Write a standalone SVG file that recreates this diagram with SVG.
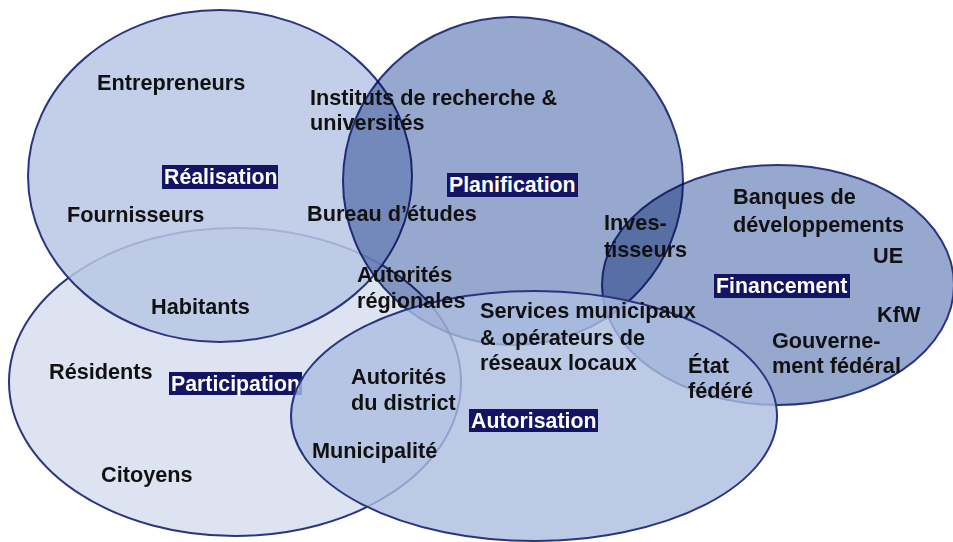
<svg xmlns="http://www.w3.org/2000/svg" width="953" height="542" viewBox="0 0 953 542">
<style>
.e{stroke:#2a3580;stroke-width:2}
.m{mix-blend-mode:multiply}
.t{font-family:"Liberation Sans",Arial,sans-serif;font-weight:bold;font-size:21.7px;fill:#111}
.lb{fill:#141464}
.lt{font-family:"Liberation Sans",Arial,sans-serif;font-weight:bold;font-size:21.3px;fill:#fff}
</style>
<rect width="953" height="542" fill="#fff"/>
<g id="participation">
<ellipse class="e" cx="235" cy="382" rx="226" ry="154" fill="#dde3f1"/>
<rect class="lb" x="169" y="372" width="133" height="23"/>
<text class="lt" x="171" y="391">Participation</text>
</g>
<g id="realisation">
<ellipse class="e" cx="220" cy="176" rx="192" ry="166" fill="rgb(185,199,228)" fill-opacity="0.85"/>
<rect class="lb" x="162" y="165" width="116" height="24"/>
<text class="lt" x="164" y="184">Réalisation</text>
</g>
<g id="planification">
<ellipse class="e m" cx="513" cy="181" rx="170" ry="164" fill="#96a8ce"/>
<rect class="lb" x="447" y="173" width="131" height="24"/>
<text class="lt" x="449" y="192">Planification</text>
</g>
<g id="financement">
<ellipse class="e m" cx="778" cy="285" rx="176" ry="120" fill="#96a8ce"/>
<rect class="lb" x="714" y="274" width="136" height="24"/>
<text class="lt" x="716" y="293">Financement</text>
</g>
<g id="autorisation">
<ellipse class="e" cx="534" cy="416" rx="243" ry="125" fill="rgb(171,189,224)" fill-opacity="0.8"/>
<rect class="lb" x="469" y="409" width="129" height="23"/>
<text class="lt" x="471" y="428">Autorisation</text>
</g>
<g id="actors">
<text class="t" x="97" y="90">Entrepreneurs</text>
<text class="t" x="310" y="105">Instituts de recherche &amp;</text>
<text class="t" x="310" y="130">universités</text>
<text class="t" x="67" y="222">Fournisseurs</text>
<text class="t" x="307" y="221">Bureau d’études</text>
<text class="t" x="604" y="230">Inves-</text>
<text class="t" x="604" y="257">tisseurs</text>
<text class="t" x="733" y="204">Banques de</text>
<text class="t" x="733" y="232">développements</text>
<text class="t" x="873" y="263">UE</text>
<text class="t" x="877" y="322">KfW</text>
<text class="t" x="772" y="348">Gouverne-</text>
<text class="t" x="772" y="373">ment fédéral</text>
<text class="t" x="357" y="282">Autorités</text>
<text class="t" x="357" y="308">régionales</text>
<text class="t" x="151" y="314">Habitants</text>
<text class="t" x="480" y="318">Services municipaux</text>
<text class="t" x="480" y="345">&amp; opérateurs de</text>
<text class="t" x="480" y="370">réseaux locaux</text>
<text class="t" x="688" y="373">État</text>
<text class="t" x="688" y="398">fédéré</text>
<text class="t" x="49" y="379">Résidents</text>
<text class="t" x="351" y="384">Autorités</text>
<text class="t" x="351" y="410">du district</text>
<text class="t" x="312" y="458">Municipalité</text>
<text class="t" x="101" y="482">Citoyens</text>
</g>
</svg>
